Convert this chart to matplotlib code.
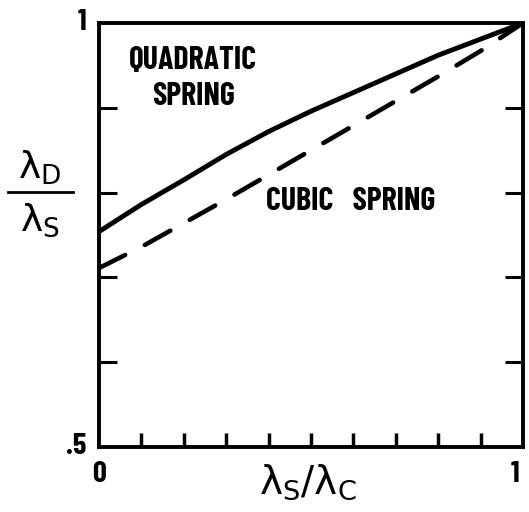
import matplotlib
matplotlib.use("Agg")
import matplotlib.pyplot as plt
from matplotlib.lines import Line2D

plt.rcParams['mathtext.default'] = 'regular'
plt.rcParams['lines.scale_dashes'] = False

# Ratio curves
x_vals = [0.0, 0.1, 0.2, 0.3, 0.4, 0.5, 0.6, 0.7, 0.8, 0.9, 1.0]
quadratic = [0.754, 0.786, 0.815, 0.845, 0.872, 0.896, 0.918, 0.940, 0.962, 0.981, 1.0]
cubic = [0.711, 0.736, 0.764, 0.792, 0.821, 0.850, 0.879, 0.908, 0.937, 0.967, 1.0]

x_minor = [0.1, 0.2, 0.3, 0.4, 0.5, 0.6, 0.7, 0.8, 0.9]
y_minor = [0.6, 0.7, 0.8, 0.9]
x_labels = {0.0: "0", 1.0: "1"}
y_labels = {0.5: ".5", 1.0: "1"}

FONT = ['Barlow Condensed', 'DejaVu Sans']

fig = plt.figure(figsize=(5.29, 5.12), dpi=100)
ax = fig.add_axes([99 / 529, 65 / 512, 424 / 529, 424 / 512])

ax.plot(x_vals, quadratic, color='black', lw=3.5, solid_capstyle='round',
        solid_joinstyle='round')
ax.plot(x_vals, cubic, color='black', lw=3.3, dashes=(21, 16),
        dash_capstyle='round')

ax.set_xlim(0, 1)
ax.set_ylim(0.5, 1)
for s in ax.spines.values():
    s.set_linewidth(2.8)

ax.set_xticks([])
ax.set_yticks([])
ax.set_xticks(x_minor, minor=True)
ax.set_yticks(y_minor, minor=True)
ax.tick_params(axis='x', which='minor', direction='in', length=10, width=2.5,
               bottom=True, top=False, labelbottom=False)
ax.tick_params(axis='y', which='minor', direction='in', length=13, width=2.2,
               left=True, right=True, labelleft=False)

# Tick labels
for xv, txt in x_labels.items():
    off = -0.018 if xv == 1.0 else 0.0
    ax.text(xv + off, -0.033, txt, transform=ax.get_xaxis_transform(),
            ha='center', va='top', fontsize=22, fontweight=700, family=FONT)
for yv, txt in y_labels.items():
    ax.text(-0.03, yv, txt, transform=ax.get_yaxis_transform(),
            ha='right', va='center', fontsize=22, fontweight=700, family=FONT)

# Curve annotations
ax.text(0.222, 0.870, "QUADRATIC\nSPRING", transform=ax.transAxes,
        ha='center', va='center', fontsize=23, family=FONT,
        fontweight=700, linespacing=1.3)
ax.text(0.594, 0.578, "CUBIC   SPRING", transform=ax.transAxes,
        ha='center', va='center', fontsize=23, family=FONT, fontweight=700)

# Axis titles
fig.text(308 / 529, 1 - 482 / 512, r'$\lambda_S/\lambda_C$', ha='center',
         va='center', fontsize=28)
fig.text(40 / 529, 1 - 168 / 512, r'$\lambda_D$', ha='center', va='center',
         fontsize=27)
fig.text(40 / 529, 1 - 220 / 512, r'$\lambda_S$', ha='center', va='center',
         fontsize=27)
fig.add_artist(Line2D([8 / 529, 73 / 529], [1 - 192 / 512, 1 - 192 / 512],
                      transform=fig.transFigure, color='black', lw=2.0))

fig.savefig("out.png", dpi=100)
